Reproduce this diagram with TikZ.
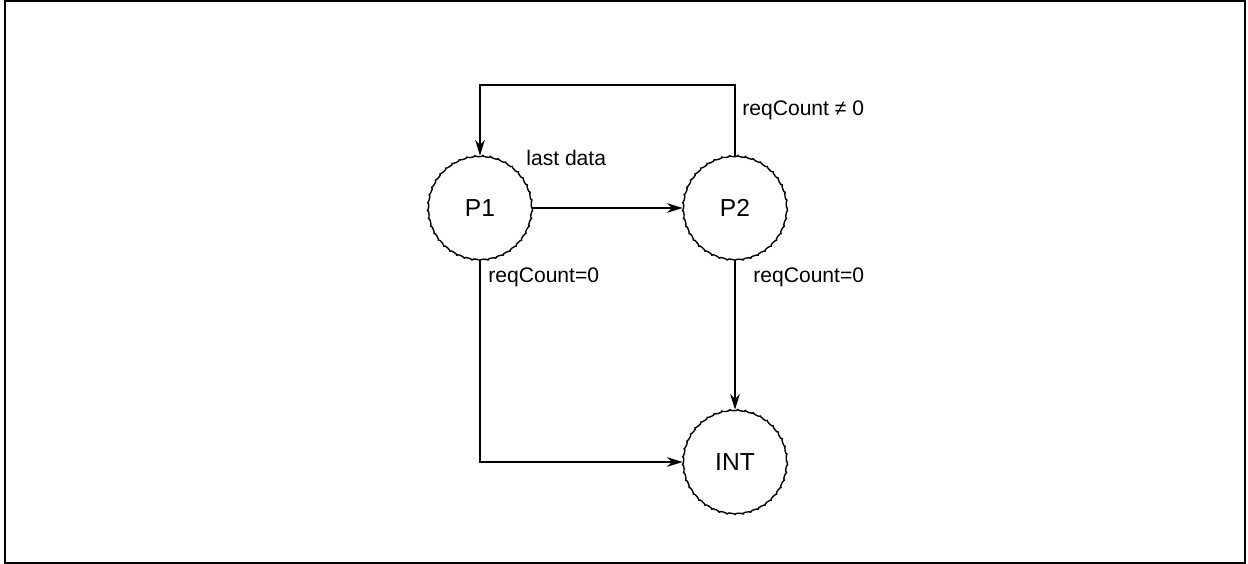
\documentclass[tikz,border=0pt]{standalone}
\usepackage{fontspec}
\setmainfont{Liberation Sans}
\usetikzlibrary{arrows.meta,decorations.pathmorphing}

\tikzset{
  state/.style={circle, minimum size=2.08cm, inner sep=0pt, font=\fontsize{14}{16}\selectfont,
    postaction={draw, thick, decorate, decoration={bumps, segment length=9pt, amplitude=0.45pt}}},
  cond/.style={font=\fontsize{12}{14}\selectfont, inner sep=0pt, anchor=west},
  trans/.style={semithick, -{Stealth[length=9pt, width=5.5pt]}}
}

\begin{document}
\begin{tikzpicture}[x=0.02cm, y=-0.02cm]
  \useasboundingbox (0,0) rectangle (1248,564);
  \draw[line width=1pt] (5,1) rectangle (1245,563);

  \node[state] (P1) at (480,208) {P1};
  \node[state] (P2) at (735,208) {P2};
  \node[state] (INT) at (735,462) {INT};

  \coordinate (loopR) at (735,85);
  \coordinate (loopL) at (480,85);
  \coordinate (down) at (480,462);

  \draw[trans] (P1) -- (P2);
  \draw[trans] (P2.north) -- (loopR) -- (loopL) -- (P1.north);
  \draw[trans] (P1.south) -- (down) -- (INT.west);
  \draw[trans] (P2.south) -- (INT.north);

  \node[cond] (lastdata) at (526,158) {last data};
  \node[cond] (neq) at (742,110) {reqCount ≠ 0};
  \node[cond] (zeroL) at (488,277) {reqCount=0};
  \node[cond] (zeroR) at (753,277) {reqCount=0};
\end{tikzpicture}
\end{document}
